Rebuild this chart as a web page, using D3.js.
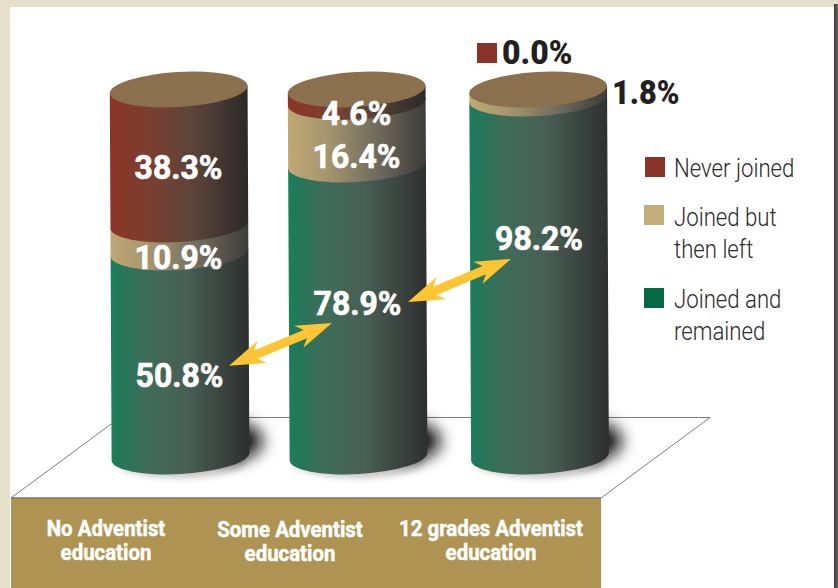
<!DOCTYPE html>
<html>
<head>
<meta charset="utf-8">
<script src="https://cdn.jsdelivr.net/npm/d3@7"></script>
<style>
  html, body { margin: 0; padding: 0; background: #e6e0cb; overflow: hidden; }
  text { font-family: Roboto, "Noto Sans", sans-serif; }
</style>
</head>
<body>
<script>
//Chart values.
var categories = ["No Adventist education", "Some Adventist education", "12 grades Adventist education"];
var categoryLines = [["No Adventist", "education"], ["Some Adventist", "education"], ["12 grades Adventist", "education"]];
var remained = [50.8, 78.9, 98.2];
var joinedLeft = [10.9, 16.4, 1.8];
var neverJoined = [38.3, 4.6, 0.0];
var legendLines = [["Never joined"], ["Joined but", "then left"], ["Joined and", "remained"]];

//Window size.
var width = 838;
var height = 588;

var svg = d3.select("body").append("svg").attr("width", width).attr("height", height).style("display", "block");
var defs = svg.append("defs");

//Cylinder geometry.
var rx = 69;
var ry = 17.5;
var tilt = 3.3;
var tiltRad = tilt * Math.PI / 180;
var baseY = 456.5;

//The original is not drawn to a straight scale, so the scale has a knot per stack boundary.
var yScale = d3.scaleLinear()
  .domain([0, 50.8, 61.7, 78.9, 95.4, 98.2, 100])
  .range([baseY, baseY - 204, baseY - 232, baseY - 292, baseY - 355, baseY - 358, baseY - 367]);
var xScale = d3.scaleOrdinal(categories, [180.5, 358.5, 540]);

//The cylinders lean a little to the left going up.
function centerX(name, y) {
  return xScale(name) + (y - baseY) * 0.005;
}

//One stack segment: straight sides and a rounded lower edge.
function segmentPath(name, y1, y2) {
  var c1 = centerX(name, y1);
  var c2 = centerX(name, y2);
  var dx = rx * Math.cos(tiltRad);
  var dy = rx * Math.sin(tiltRad);
  return "M" + (c1 + dx) + "," + (y1 - dy) +
    "L" + (c2 + dx) + "," + (y2 - dy) +
    "A" + rx + "," + ry + " " + (-tilt) + " 0 1 " + (c2 - dx) + "," + (y2 + dy) +
    "L" + (c1 - dx) + "," + (y1 + dy) + "Z";
}

//Horizontal gradients for the three stack colours.
function addGradient(id, stops) {
  var g = defs.append("linearGradient").attr("id", id).attr("x1", 0).attr("x2", 1).attr("y1", 0).attr("y2", 0);
  stops.forEach(function(s) {
    g.append("stop").attr("offset", s[0]).attr("stop-color", s[1]);
  });
}
addGradient("gradGreen", [[0, "#1b7f5c"], [0.06, "#22785a"], [0.25, "#3e6d59"], [0.55, "#485f54"], [0.85, "#373f3c"], [1, "#2d3030"]]);
addGradient("gradTan", [[0, "#bfa873"], [0.3, "#a4946e"], [0.65, "#6f6a5c"], [1, "#3c3c3a"]]);
addGradient("gradRed", [[0, "#8c3527"], [0.3, "#7a3f30"], [0.6, "#5c443a"], [1, "#2b2929"]]);

defs.append("filter").attr("id", "blurBig").attr("x", "-100%").attr("y", "-100%").attr("width", "300%").attr("height", "300%")
  .append("feGaussianBlur").attr("stdDeviation", 8);
defs.append("filter").attr("id", "blurSmall").attr("x", "-50%").attr("y", "-100%").attr("width", "200%").attr("height", "300%")
  .append("feGaussianBlur").attr("stdDeviation", 3);

//Page panel.
var edge = defs.append("linearGradient").attr("id", "gradEdge").attr("x1", 0).attr("x2", 1).attr("y1", 0).attr("y2", 0);
edge.append("stop").attr("offset", 0).attr("stop-color", "#3f3c35");
edge.append("stop").attr("offset", 1).attr("stop-color", "#6b675c");
svg.append("rect").attr("width", width).attr("height", height).attr("fill", "#e6e0cb");
svg.append("rect").attr("x", 834).attr("y", 4).attr("width", 4).attr("height", height).attr("fill", "url(#gradEdge)");
svg.append("rect").attr("x", 10).attr("y", 7).attr("width", 824).attr("height", height).attr("fill", "#ffffff");

//Floor.
svg.append("polygon")
  .attr("points", "11,498 120,417.5 710,417.5 601,498")
  .attr("fill", "#ffffff").attr("stroke", "#5a5a5a").attr("stroke-width", 0.8);

//Category plate.
svg.append("rect").attr("x", 11).attr("y", 498).attr("width", 590).attr("height", 90).attr("fill", "#ae9353");
svg.append("line").attr("x1", 11).attr("x2", 601).attr("y1", 498).attr("y2", 498).attr("stroke", "#6f6c6c").attr("stroke-width", 1);

//Shadows.
svg.selectAll(".shadow").data(categories).enter().append("ellipse")
  .attr("class", "shadow")
  .attr("cx", function(d) { return xScale(d) + 52; })
  .attr("cy", 441).attr("rx", 30).attr("ry", 19)
  .attr("fill", "#111").attr("filter", "url(#blurBig)");
svg.selectAll(".shadowUnder").data(categories).enter().append("ellipse")
  .attr("class", "shadowUnder")
  .attr("cx", function(d) { return xScale(d); })
  .attr("cy", 461).attr("rx", 66).attr("ry", 17)
  .attr("fill", "#000").attr("opacity", 0.22).attr("filter", "url(#blurSmall)");

//Cylinders: green runs to the base, the tan sits over it, the red over the tan.
categories.forEach(function(name, i) {
  var a = remained[i];
  var b = a + joinedLeft[i];
  var g = svg.append("g");

  g.append("path").attr("d", segmentPath(name, yScale(a), baseY)).attr("fill", "url(#gradGreen)");
  if (joinedLeft[i] > 0) {
    g.append("path").attr("d", segmentPath(name, yScale(b), yScale(a))).attr("fill", "url(#gradTan)");
  }
  if (neverJoined[i] > 0) {
    g.append("path").attr("d", segmentPath(name, yScale(100), yScale(b))).attr("fill", "url(#gradRed)");
  }

  //Lid.
  g.append("ellipse")
    .attr("rx", rx).attr("ry", ry)
    .attr("transform", "translate(" + centerX(name, yScale(100)) + "," + yScale(100) + ") rotate(" + (-tilt) + ")")
    .attr("fill", "#8a704c");
});

//Double headed yellow arrows between the green percentages.
function arrow(x1, y1, x2, y2) {
  var len = Math.hypot(x2 - x1, y2 - y1);
  var head = 36;
  var wing = 12;
  var neck = 4.5;
  var back = 29;
  var pts = [[0, 0], [head, -wing], [back, -neck], [len - back, -neck], [len - head, -wing], [len, 0],
             [len - head, wing], [len - back, neck], [back, neck], [head, wing]];
  svg.append("polygon")
    .attr("points", pts.map(function(p) { return p.join(","); }).join(" "))
    .attr("transform", "translate(" + x1 + "," + y1 + ") rotate(" + (Math.atan2(y2 - y1, x2 - x1) * 180 / Math.PI) + ")")
    .attr("fill", "#fdc533");
}
arrow(229, 365.7, 332, 323);
arrow(408, 302, 511, 259);

//Text helper: the original face is narrower than Roboto, so squeeze it sideways.
function label(x, y, str, size, weight, fill, squeeze, anchor, thicken) {
  svg.append("text")
    .attr("transform", "translate(" + x + "," + y + ") scale(" + squeeze + ",1)")
    .attr("text-anchor", anchor)
    .attr("font-size", size).attr("font-weight", weight).attr("fill", fill)
    .attr("stroke", thicken ? fill : "none").attr("stroke-width", thicken || 0)
    .text(str);
}

//Value labels inside the cylinders, placed from the middle of each segment.
categories.forEach(function(name, i) {
  var a = remained[i];
  var b = a + joinedLeft[i];
  var top = yScale(100);
  label(xScale(name) - 1, (yScale(a) + baseY) / 2 + [32, 4, -28][i], a.toFixed(1) + "%", 34, 700, "#fff", 0.94, "middle", 0.7);
  if (i < 2) {
    label(xScale(name) - 2, (yScale(b) + yScale(a)) / 2 + [30, 35][i], joinedLeft[i].toFixed(1) + "%", 34, 700, "#fff", 0.94, "middle", 0.7);
    label(xScale(name) - 2, (top + yScale(b)) / 2 + [22, 29][i], neverJoined[i].toFixed(1) + "%", 34, 700, "#fff", 0.94, "middle", 0.7);
  }
});

//The two small values of the third stack sit outside it.
svg.append("rect").attr("x", 477).attr("y", 43).attr("width", 20).attr("height", 20).attr("fill", "#8a3329");
label(502, 63.5, neverJoined[2].toFixed(1) + "%", 33, 900, "#231f20", 0.97, "start");
label(612, 103.5, joinedLeft[2].toFixed(1) + "%", 33, 900, "#231f20", 0.93, "start");

//Category labels.
categoryLines.forEach(function(lines, i) {
  var cx = [106, 290, 491][i];
  var y0 = [536, 537, 536][i];
  lines.forEach(function(line, j) {
    label(cx, y0 + j * 24, line, 21.5, 700, "#fff", 0.95, "middle", 0.5);
  });
});

//Legend.
var legendColors = ["#8a3329", "#c3ad7b", "#046a43"];
var legendTop = [157, 205, 288];
legendLines.forEach(function(lines, i) {
  svg.append("rect").attr("x", i === 0 ? 645 : 644).attr("y", legendTop[i]).attr("width", 20).attr("height", 20).attr("fill", legendColors[i]);
  lines.forEach(function(line, j) {
    label(674, legendTop[i] + [20, 21, 20][i] + j * 32, line, 25.5, 300, "#2b2a2c", 0.87, "start");
  });
});
</script>
</body>
</html>
